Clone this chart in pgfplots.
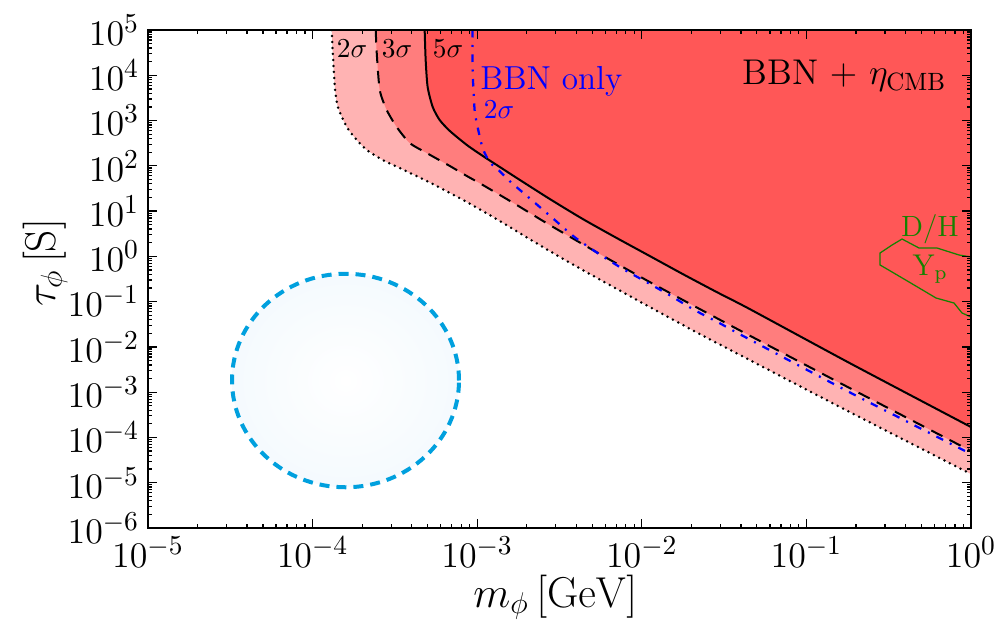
\documentclass[border=0pt]{standalone}
\usepackage{pgfplots}
\pgfplotsset{compat=1.18}
\definecolor{lightred}{RGB}{255,179,179}
\definecolor{midred}{RGB}{255,125,125}
\definecolor{darkred}{RGB}{255,87,87}
\definecolor{circblue}{RGB}{0,160,222}
\definecolor{circfill}{RGB}{234,245,252}
\definecolor{contgreen}{RGB}{20,130,0}
\pgfdeclareradialshading{glow}{\pgfpoint{0bp}{0bp}}{color(0bp)=(white); color(50bp)=(circfill)}
\pgfplotstableread{
x y
1.308e-4 1e5
1.327e-4 3.106e4
1.365e-4 5.508e3
1.423e-4 1.991e3
1.613e-4 7.20e2
1.855e-4 3.717e2
2.135e-4 2.235e2
2.668e-4 1.344e2
3.382e-4 8.956e1
5.379e-4 3.963e1
8.651e-4 1.589e1
1.372e-3 6.040
2.177e-3 2.184
3.499e-3 7.891e-1
5.553e-3 3.085e-1
1.117e-2 7.605e-2
2.248e-2 1.928e-2
4.520e-2 5.133e-3
1.830e-1 3.649e-4
1 1.557e-5
}\twosig
\pgfplotstableread{
x y
2.419e-4 1e5
2.453e-4 3.106e4
2.558e-4 4.734e3
2.820e-4 1.710e3
3.244e-4 7.20e2
3.890e-4 3.192e2
4.933e-4 1.919e2
6.821e-4 9.908e1
8.651e-4 5.958e1
1.082e-3 3.768e1
1.740e-3 1.362e1
2.760e-3 4.921
5.553e-3 1.128
1.117e-2 2.712e-1
2.248e-2 6.874e-2
4.337e-2 1.928e-2
1.830e-1 1.237e-3
1 5.012e-5
}\threesig
\pgfplotstableread{
x y
4.796e-4 1e5
4.864e-4 2.174e4
5.0e-4 5.508e3
5.367e-4 1.991e3
5.915e-4 1.028e3
6.821e-4 5.878e2
8.651e-4 2.886e2
1.082e-3 1.649e2
1.372e-3 9.421e1
1.740e-3 5.386e1
2.760e-3 1.850e1
4.379e-3 6.688
7.042e-3 2.542
1.117e-2 1.019
1.772e-2 4.075e-1
2.850e-2 1.630e-1
4.520e-2 6.874e-2
1.830e-1 4.408e-3
1 1.698e-4
}\fivesig
\pgfplotstableread{
x y
9.381e-4 1e5
9.381e-4 1.306e4
9.646e-4 1.710e3
1.006e-3 7.20e2
1.079e-3 2.472e2
1.189e-3 1.214e2
1.368e-3 7.677e1
1.573e-3 4.616e1
2.141e-3 1.759e1
2.869e-3 7.032
3.900e-3 2.675
5.382e-3 1.186
7.520e-3 5.534e-1
1.067e-2 2.712e-1
1.471e-2 1.400e-1
2.088e-2 6.533e-2
2.959e-2 3.373e-2
4.022e-2 1.833e-2
1.819e-1 1.007e-3
1 4.308e-5
}\bbnonly
\begin{document}
\begin{tikzpicture}
\begin{axis}[
  at={(0,0)}, anchor=south west,
  xmode=log, ymode=log,
  scale only axis, width=329.2pt, height=199.2pt,
  xmin=1e-5, xmax=1, ymin=1e-6, ymax=1e5,
  xtick={1e-5,1e-4,1e-3,1e-2,1e-1,1},
  ytick={1e-6,1e-5,1e-4,1e-3,1e-2,1e-1,1,1e1,1e2,1e3,1e4,1e5},
  axis on top,
  tick align=inside,
  major tick length=3.6pt, minor tick length=1.8pt,
  every tick/.style={black, line width=0.5pt},
  axis line style={line width=1pt},
  tick label style={font=\fontsize{15.6}{18}\selectfont},
  xlabel={$m_\phi\,[\mathrm{GeV}]$},
  ylabel={$\tau_\phi\,[\mathrm{S}]$},
  label style={font=\fontsize{16.8}{20}\selectfont},
  xlabel style={at={(axis description cs:0.495,-0.1386)}, anchor=center},
  ylabel style={at={(axis description cs:-0.125,0.532)}, anchor=center},
]
% filled regions
\addplot[draw=none, fill=lightred, smooth, tension=0.4] table {\twosig} -- (axis cs:1,1e5) -- cycle;
\addplot[draw=none, fill=midred, smooth, tension=0.4] table {\threesig} -- (axis cs:1,1e5) -- cycle;
\addplot[draw=none, fill=darkred, smooth, tension=0.4] table {\fivesig} -- (axis cs:1,1e5) -- cycle;
% circle
\shadedraw[shading=glow, draw=circblue, line width=1.6pt, dash pattern=on 4pt off 2.8pt]
  (axis cs:1.585e-4,1.811e-3) ellipse [x radius=45.4pt, y radius=42.7pt];
% boundary lines
\addplot[black, line width=1.1pt, line cap=round, dash pattern=on 0pt off 2.4pt, smooth, tension=0.4] table {\twosig};
\addplot[black, line width=0.8pt, dash pattern=on 5pt off 3.2pt, smooth, tension=0.4] table {\threesig};
\addplot[black, line width=0.8pt, smooth, tension=0.4] table {\fivesig};
\addplot[blue, line width=0.9pt, dash pattern=on 3pt off 3pt on 0.8pt off 3pt, smooth, tension=0.4] table {\bbnonly};
% D/H, Yp contour
\addplot[contgreen, line width=0.5pt] coordinates {
(1,9.686e-1) (8.458e-1,1.072) (6.223e-1,1.528) (4.837e-1,1.528) (3.813e-1,2.416)
(3.317e-1,1.783) (2.804e-1,1.186) (2.804e-1,6.444e-1) (3.317e-1,4.509e-1)
(4.206e-1,2.712e-1) (6.135e-1,1.202e-1) (7.888e-1,9.315e-2) (8.823e-1,5.614e-2)
(1,4.573e-2)};
% labels
\node[anchor=base, font=\fontsize{10.5}{12}\selectfont] at (axis cs:1.736e-4,2.408e4) {$2\sigma$};
\node[anchor=base, font=\fontsize{10.5}{12}\selectfont] at (axis cs:3.257e-4,2.408e4) {$3\sigma$};
\node[anchor=base, font=\fontsize{10.5}{12}\selectfont] at (axis cs:6.651e-4,2.408e4) {$5\sigma$};
\node[anchor=base west, inner sep=0pt, text=blue, font=\fontsize{13.3}{15}\selectfont] at (axis cs:1.040e-3,4.734e3) {BBN only};
\node[anchor=base, text=blue, font=\fontsize{10.5}{12}\selectfont] at (axis cs:1.357e-3,1.138e3) {$2\sigma$};
\node[anchor=base west, inner sep=0pt, font=\fontsize{14.3}{16}\selectfont] at (axis cs:4.064e-2,6.098e3) {BBN $+$ $\eta_{\mathrm{CMB}}$};
\node[anchor=base, text=contgreen, font=\fontsize{11.7}{13}\selectfont] at (axis cs:5.639e-1,2.817) {D/H};
\node[anchor=base, text=contgreen, font=\fontsize{11.7}{13}\selectfont] at (axis cs:5.639e-1,3.874e-1) {$\mathrm{Y_p}$};
\end{axis}
\pgfresetboundingbox
\path[use as bounding box] (-59.2pt,-37.6pt) rectangle (339.2pt,211.2pt);
\end{tikzpicture}
\end{document}
